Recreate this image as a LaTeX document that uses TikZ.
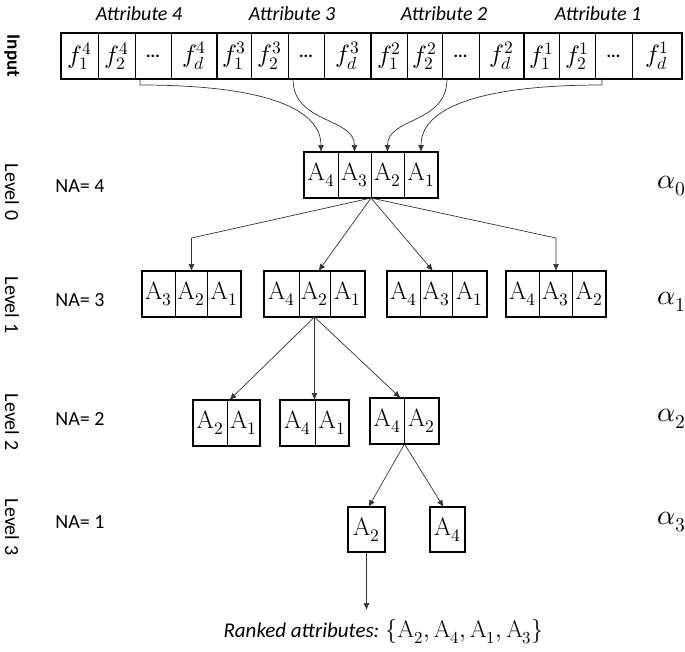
\documentclass[tikz,border=0pt]{standalone}
\usepackage{fontspec}
\usepackage{unicode-math}
\setmathfont{Latin Modern Math}
\setsansfont{Carlito}
\usetikzlibrary{arrows.meta,fit,calc}
\begin{document}
\begin{tikzpicture}[x=1pt,y=-1pt,
  cellw/.style={draw,line width=0.6pt,minimum width=#1,minimum height=46pt,inner sep=0pt,outer sep=0pt,anchor=north west,font=\fontsize{25}{27}\selectfont},
  outline/.style={draw,line width=2.6pt,inner sep=0pt,outer sep=0pt},
  conn/.style={draw=black!80,line width=0.7pt,-{Latex[length=7pt,width=6pt]}},
  sidelbl/.style={font=\sffamily\fontsize{20}{22}\selectfont,rotate=-90},
  nalbl/.style={font=\sffamily\fontsize{20}{22}\selectfont},
  attlbl/.style={font=\sffamily\itshape\fontsize{20}{22}\selectfont},
  alph/.style={font=\fontsize{28}{30}\selectfont},
  dots/.style={font=\sffamily\bfseries\fontsize{17}{19}\selectfont}
]
\useasboundingbox (0,0) rectangle (685,651);

% ---------- Input row ----------
\node[cellw=37] (i41) at (61,33) {$f_1^4$};
\node[cellw=37] (i42) at (98,33) {$f_2^4$};
\node[cellw=36,dots] (i4e) at (135,33) {...};
\node[cellw=46] (i4d) at (171,33) {$f_d^4$};
\node[cellw=34] (i31) at (217,33) {$f_1^3$};
\node[cellw=37] (i32) at (251,33) {$f_2^3$};
\node[cellw=36,dots] (i3e) at (288,33) {...};
\node[cellw=47] (i3d) at (324,33) {$f_d^3$};
\node[cellw=36] (i21) at (371,33) {$f_1^2$};
\node[cellw=35] (i22) at (407,33) {$f_2^2$};
\node[cellw=37,dots] (i2e) at (442,33) {...};
\node[cellw=45] (i2d) at (479,33) {$f_d^2$};
\node[cellw=35] (i11) at (524,33) {$f_1^1$};
\node[cellw=36] (i12) at (559,33) {$f_2^1$};
\node[cellw=37,dots] (i1e) at (595,33) {...};
\node[cellw=50] (i1d) at (632,33) {$f_d^1$};
\node[outline,fit=(i41)(i4d)] (in4) {};
\node[outline,fit=(i31)(i3d)] (in3) {};
\node[outline,fit=(i21)(i2d)] (in2) {};
\node[outline,fit=(i11)(i1d)] (in1) {};

\node[attlbl] (att4) at (139,14) {Attribute 4};
\node[attlbl] (att3) at (292,14) {Attribute 3};
\node[attlbl] (att2) at (444,14) {Attribute 2};
\node[attlbl] (att1) at (598,14) {Attribute 1};

% ---------- Level 0 ----------
\node[cellw=34] (c04) at (304,152) {$\mathrm{A}_4$};
\node[cellw=33] (c03) at (338,152) {$\mathrm{A}_3$};
\node[cellw=33] (c02) at (371,152) {$\mathrm{A}_2$};
\node[cellw=34] (c01) at (404,152) {$\mathrm{A}_1$};
\node[outline,fit=(c04)(c01)] (L0) {};

% ---------- Level 1 ----------
\node[cellw=33] (a3) at (142,271) {$\mathrm{A}_3$};
\node[cellw=32] (a2) at (175,271) {$\mathrm{A}_2$};
\node[cellw=34] (a1) at (207,271) {$\mathrm{A}_1$};
\node[outline,fit=(a3)(a1)] (L1a) {};
\node[cellw=35] (b4) at (264,271) {$\mathrm{A}_4$};
\node[cellw=31] (b2) at (299,271) {$\mathrm{A}_2$};
\node[cellw=35] (b1) at (330,271) {$\mathrm{A}_1$};
\node[outline,fit=(b4)(b1)] (L1b) {};
\node[cellw=33] (d4) at (387,271) {$\mathrm{A}_4$};
\node[cellw=32] (d3) at (420,271) {$\mathrm{A}_3$};
\node[cellw=35] (d1) at (452,271) {$\mathrm{A}_1$};
\node[outline,fit=(d4)(d1)] (L1c) {};
\node[cellw=33] (e4) at (506,271) {$\mathrm{A}_4$};
\node[cellw=33] (e3) at (539,271) {$\mathrm{A}_3$};
\node[cellw=34] (e2) at (572,271) {$\mathrm{A}_2$};
\node[outline,fit=(e4)(e2)] (L1d) {};

% ---------- Level 2 ----------
\node[cellw=34] (g2) at (193,400) {$\mathrm{A}_2$};
\node[cellw=33] (g1) at (227,400) {$\mathrm{A}_1$};
\node[outline,fit=(g2)(g1)] (L2a) {};
\node[cellw=35] (h4) at (280,400) {$\mathrm{A}_4$};
\node[cellw=34] (h1) at (315,400) {$\mathrm{A}_1$};
\node[outline,fit=(h4)(h1)] (L2b) {};
\node[cellw=34] (k4) at (370,398) {$\mathrm{A}_4$};
\node[cellw=35] (k2) at (404,398) {$\mathrm{A}_2$};
\node[outline,fit=(k4)(k2)] (L2c) {};

% ---------- Level 3 ----------
\node[outline,minimum width=37pt,minimum height=45pt,anchor=north west,font=\fontsize{25}{27}\selectfont] (L3a) at (348,507) {$\mathrm{A}_2$};
\node[outline,minimum width=35pt,minimum height=45pt,anchor=north west,font=\fontsize{25}{27}\selectfont] (L3b) at (430,507) {$\mathrm{A}_4$};

\node[anchor=west] (rank) at (220,632) {\sffamily\itshape\fontsize{21}{23}\selectfont Ranked attributes: \fontsize{24}{26}\selectfont$\{\mathrm{A}_2,\mathrm{A}_4,\mathrm{A}_1,\mathrm{A}_3\}$};
\coordinate (rtop) at (366.5,610);

% ---------- side labels ----------
\node[sidelbl,font=\sffamily\bfseries\fontsize{19}{21}\selectfont] (lin) at (12,56) {Input};
\node[sidelbl] (lv0) at (12,192) {Level 0};
\node[sidelbl] (lv1) at (12,305) {Level 1};
\node[sidelbl] (lv2) at (12,422) {Level 2};
\node[sidelbl] (lv3) at (12,527) {Level 3};
\node[nalbl] (na4) at (80,186) {NA= 4};
\node[nalbl] (na3) at (80,300) {NA= 3};
\node[nalbl] (na2) at (80,419) {NA= 2};
\node[nalbl] (na1) at (80,522) {NA= 1};
\node[alph] (al0) at (672,186) {$\alpha_0$};
\node[alph] (al1) at (672,302) {$\alpha_1$};
\node[alph] (al2) at (672,419) {$\alpha_2$};
\node[alph] (al3) at (672,522) {$\alpha_3$};

% ---------- connectors ----------
\coordinate (s4) at ($(i4e.south west)+(5,0)$);
\coordinate (s3) at ($(i3e.south west)+(5,0)$);
\coordinate (s2) at ($(i2e.south west)+(5,0)$);
\coordinate (s1) at ($(i1e.south west)+(7,0)$);
\draw[conn] (s4) -- ++(0,6) .. controls +(120,0) and +(0,-45) .. (c04.north);
\draw[conn] (s3) .. controls +(0,45) and +(0,-35) .. (c03.north);
\draw[conn] (s2) .. controls +(0,45) and +(0,-35) .. (c02.north);
\draw[conn] (s1) -- ++(0,6) .. controls +(-120,0) and +(0,-45) .. (c01.north);

\draw[conn] (L0.south) -- ($(L1a.north)+(0,-33)$) -- (L1a.north);
\draw[conn] (L0.south) -- ($(L1b.north)+(4,0)$);
\draw[conn] (L0.south) -- ($(L1c.north)+(-4,0)$);
\draw[conn] (L0.south) -- ($(L1d.north)+(0,-33)$) -- (L1d.north);

\draw[conn] (L1b.south) -- ($(L2a.north)+(3,0)$);
\draw[conn] (L1b.south) -- (L2b.north);
\draw[conn] (L1b.south) -- ($(L2c.north)+(-4,0)$);

\draw[conn] (L2c.south) -- ($(L3a.north)+(2,0)$);
\draw[conn] (L2c.south) -- ($(L3b.north)+(-4,0)$);

\draw[conn] (L3a.south) -- (rtop);
\end{tikzpicture}
\end{document}
